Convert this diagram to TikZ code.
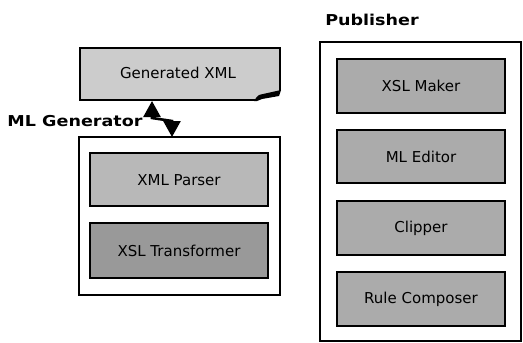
\documentclass[tikz,border=0pt]{standalone}
\usepackage{fontspec}
\setmainfont{DejaVu Sans}
\newfontfamily\labfont[FakeStretch=1.17]{DejaVu Sans Bold}
\usetikzlibrary{arrows.meta}
\definecolor{genfill}{gray}{0.80}
\definecolor{parsefill}{gray}{0.72}
\definecolor{transfill}{gray}{0.60}
\definecolor{pubfill}{gray}{0.67}
\tikzset{
  outerbox/.style={draw=black, line width=2pt, fill=white},
  compbox/.style={draw=black, line width=2pt, fill=pubfill},
  boxtext/.style={font=\fontsize{15}{18}\selectfont},
  grouplabel/.style={font=\labfont\fontsize{15}{18}\selectfont},
  bolt/.style={line width=2.6pt, {Triangle[length=16pt,width=17pt]}-{Triangle[length=16pt,width=17pt]}}
}
\begin{document}
\begin{tikzpicture}[x=1pt,y=-1pt]
\useasboundingbox (0,0) rectangle (523,343);
% Generated XML document shape
\fill[genfill] (80,48) -- (280,48) -- (280,91) -- (262,95) .. controls (258,96) .. (255,100) -- (80,100) -- cycle;
\draw[line width=2pt] (255,100) -- (80,100) -- (80,48) -- (280,48) -- (280,91);
\fill[black] (254,101) .. controls (258,95) .. (263,94) -- (281,90) -- (279,96) -- (262,99) .. controls (259,100) .. (257,101) -- cycle;
\node[boxtext] (gen) at (178,73) {Generated XML};
\coordinate (p1) at (152,101);
% ML Generator
\node[grouplabel] (mlglab) at (75,121) {ML Generator};
\draw[outerbox] (79,137) rectangle (280,295);
\coordinate (p2) at (172,137);
\draw[compbox, fill=parsefill] (90,153) rectangle (268,206);
\node[boxtext] (parser) at (179,180) {XML Parser};
\draw[compbox, fill=transfill] (90,223) rectangle (268,278);
\node[boxtext] (trans) at (179,251) {XSL Transformer};
% bolt arrow
\draw[bolt] (p1) -- (152,118) -- (172,121) -- (p2);
% Publisher
\node[grouplabel] (publab) at (372,20) {Publisher};
\draw[outerbox] (320,42) rectangle (521,341);
\draw[compbox] (337,59) rectangle (505,113);
\node[boxtext] (maker) at (421,86) {XSL Maker};
\draw[compbox] (337,130) rectangle (505,183);
\node[boxtext] (editor) at (421,157) {ML Editor};
\draw[compbox] (337,201) rectangle (505,255);
\node[boxtext] (clipper) at (421,228) {Clipper};
\draw[compbox] (337,272) rectangle (505,326);
\node[boxtext] (rule) at (421,299) {Rule Composer};
\end{tikzpicture}
\end{document}
